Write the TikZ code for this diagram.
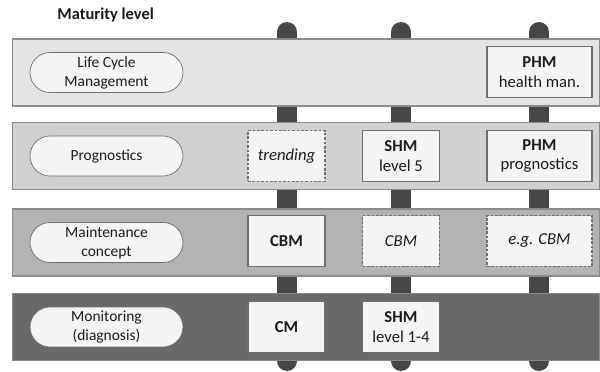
\documentclass[tikz,border=0pt]{standalone}
\usepackage{fontspec}
\setmainfont{Carlito}
\usetikzlibrary{calc,positioning}
\definecolor{bandA}{HTML}{E4E4E4}
\definecolor{bandB}{HTML}{D1D1D1}
\definecolor{bandC}{HTML}{B3B3B3}
\definecolor{bandD}{HTML}{696969}
\definecolor{bandline}{HTML}{8A8A8A}
\definecolor{pillarcol}{HTML}{474747}
\definecolor{cellfill}{HTML}{F4F4F4}
\definecolor{cellline}{HTML}{6E6E6E}
\definecolor{inkcol}{HTML}{1A1A1A}
\tikzset{
  band/.style={draw=bandline, line width=0.6pt, minimum width=11.76cm, minimum height=1.34cm, inner sep=0pt},
  level/.style={draw=cellline, fill=cellfill, rounded corners=0.4cm, minimum width=3.06cm, minimum height=0.8cm,
    inner sep=0pt, align=center, text=inkcol, font=\fontsize{8.8}{10.8}\selectfont},
  cell/.style={draw=cellline, fill=cellfill, line width=0.6pt, minimum width=1.54cm, minimum height=1.02cm,
    inner sep=0pt, align=center, text=inkcol, font=\fontsize{9.5}{11.3}\selectfont},
  widecell/.style={cell, minimum width=2.1cm},
  guess/.style={dash pattern=on 1.5pt off 1pt},
  pillar/.style={draw=pillarcol, line width=0.4cm, line cap=round}
}
\begin{document}
\begin{tikzpicture}[x=0.02cm,y=-0.02cm]
\useasboundingbox (0,0) rectangle (600,372);
\node[anchor=west, inner sep=0pt, text=inkcol, font=\fontsize{9.4}{11}\selectfont\bfseries] (title) at (57,15) {Maturity level};
\foreach \x/\n in {287/1,401/2,539/3}{
  \coordinate (top\n) at (\x,32);
  \coordinate (bot\n) at (\x,361);
  \draw[pillar] (top\n) -- (bot\n);
}
\node[band, fill=bandA] (lcm) at (306,72.5) {};
\node[band, fill=bandB] (prog) at (306,156) {};
\node[band, fill=bandC] (maint) at (306,242.5) {};
\node[band, fill=bandD] (mon) at (306,327) {};
\node[level] (lcml) at (106.5,72.5) {Life Cycle\\Management};
\node[level] (progl) at (106.5,156) {Prognostics};
\node[level] (maintl) at (106.5,242.5) {Maintenance\\concept};
\node[level] (monl) at (106.5,327) {Monitoring\\(diagnosis)};
\node[widecell] (phmA) at (539.5,72) {\textbf{PHM}\\health man.};
\node[cell, guess] (trend) at (286.5,156) {\textit{trending}};
\node[cell] (shmA) at (401,156) {\textbf{SHM}\\level 5};
\node[widecell] (phmB) at (539.5,156) {\textbf{PHM}\\prognostics};
\node[cell] (cbmA) at (286.5,241) {\textbf{CBM}};
\node[cell, guess] (cbmB) at (401,241) {\textit{CBM}};
\node[widecell, guess] (cbmC) at (539.5,241) {\textit{e.g. CBM}};
\node[cell] (cm) at (286.5,327) {\textbf{CM}};
\node[cell] (shmB) at (401,327) {\textbf{SHM}\\level 1-4};
\end{tikzpicture}
\end{document}
